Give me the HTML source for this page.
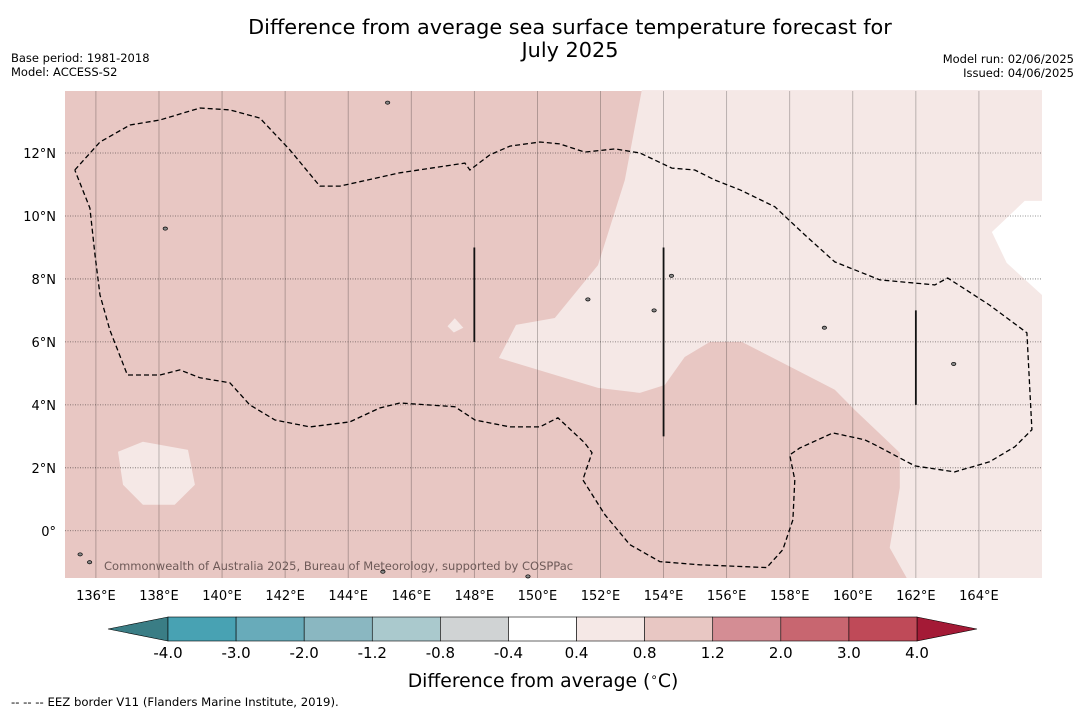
<!DOCTYPE html>
<html><head><meta charset="utf-8">
<style>
body{margin:0;background:#fff;font-family:"DejaVu Sans","Liberation Sans",sans-serif;}
svg{display:block}
</style></head>
<body>
<svg id="chart" width="1085" height="713" viewBox="0 0 1085 713">
<text x="570" y="34" font-size="20.8" text-anchor="middle" fill="#000">Difference from average sea surface temperature forecast for</text>
<text x="570" y="57" font-size="20.8" text-anchor="middle" fill="#000">July 2025</text>
<text x="11" y="62" font-size="11.5">Base period: 1981-2018</text>
<text x="11" y="76" font-size="11.5">Model: ACCESS-S2</text>
<text x="1074" y="63" font-size="11.5" text-anchor="end">Model run: 02/06/2025</text>
<text x="1074" y="77" font-size="11.5" text-anchor="end">Issued: 04/06/2025</text>
<g id="map"></g>
<g id="cbar"></g>
<text x="543" y="687" font-size="18.8" text-anchor="middle">Difference from average (<tspan font-size="12" dy="-6">∘</tspan><tspan dy="6">C)</tspan></text>
<text x="11" y="706" font-size="11.7">--  --  -- EEZ border V11 (Flanders Marine Institute, 2019).</text>
</svg>
<script>
const lonTicks=[136,138,140,142,144,146,148,150,152,154,156,158,160,162,164];
const latTicks=[0,2,4,6,8,10,12];
const lightRegion=[[153.31,14],[152.77,11.14],[151.92,8.44],[150.55,6.76],[149.32,6.54],[148.78,5.49],[151.92,4.54],[153.25,4.38],[154.04,4.63],[154.67,5.52],[155.47,6.0],[156.48,6.0],[159.43,4.48],[160.06,3.84],[161.49,2.48],[161.49,1.37],[161.17,-0.54],[161.71,-1.5],[166,-1.5],[166,14]];
const whiteRegion=[[166,10.48],[165.45,10.48],[164.41,9.49],[164.88,8.51],[166,7.49]];
const lightIsland=[[136.7,2.51],[137.49,2.83],[138.92,2.57],[139.14,1.46],[138.5,0.83],[137.49,0.83],[136.86,1.46]];
const lightSmall=[[147.38,6.75],[147.65,6.45],[147.35,6.3],[147.15,6.5]];
const eezLine=[[135.33,11.46],[136.13,12.35],[137.08,12.89],[138.03,13.05],[139.3,13.43],[140.25,13.37],[141.2,13.11],[142.15,12.1],[143.1,10.95],[143.74,10.95],[145.64,11.37],[147.7,11.68],[147.86,11.46],[148.49,11.94],[149.13,12.22],[150.08,12.35],[150.71,12.29],[151.5,12.03],[152.46,12.13],[153.25,12.0],[154.26,11.52],[154.99,11.46],[155.63,11.14],[156.42,10.83],[157.53,10.29],[158.48,9.4],[159.43,8.54],[160.86,7.97],[162.6,7.81],[163.01,8.03],[164.34,7.17],[165.52,6.29],[165.68,3.21],[165.14,2.67],[164.34,2.19],[163.23,1.87],[161.97,2.06],[160.7,2.73],[160.38,2.89],[159.37,3.11],[158.32,2.63],[158.0,2.41],[158.16,1.62],[158.1,0.35],[157.78,-0.6],[157.27,-1.17],[155.15,-1.08],[153.88,-0.98],[152.93,-0.44],[152.14,0.51],[151.44,1.62],[151.73,2.48],[151.5,2.79],[150.65,3.59],[150.08,3.3],[149.13,3.3],[148.02,3.52],[147.38,3.94],[145.64,4.06],[145.0,3.9],[144.05,3.46],[142.79,3.3],[141.68,3.52],[140.88,4.0],[140.25,4.7],[139.3,4.86],[138.66,5.11],[138.03,4.95],[137.0,4.95],[136.44,6.38],[136.13,7.49],[135.97,8.76],[135.81,10.25],[135.33,11.46]];
const boundaryLons=[148,154,162];
const boundaryLatStart=[6,3,4];
const boundaryLatEnd=[9,9,7];
const islands=[[145.25,13.6],[138.2,9.6],[154.25,8.1],[153.7,7.0],[159.1,6.45],[163.2,5.3],[151.6,7.35],[135.5,-0.75],[135.8,-1.0],[145.1,-1.3],[149.7,-1.45]];
const cbarLabels=["-4.0","-3.0","-2.0","-1.2","-0.8","-0.4","0.4","0.8","1.2","2.0","3.0","4.0"];
const cbarColors=["#48a2b3","#68abba","#8ab7c1","#aac9cd","#d0d3d4","#ffffff","#f5e8e6","#e8c7c3","#d48d94","#c86670","#bf4a58"];
const lowColor="#3a7d85", highColor="#a41a36";

const NS="http://www.w3.org/2000/svg";
const L=65,R=1042,T=91,B=578;
const LON0=135.02,LON1=166,LAT0=-1.5,LAT1=13.97;
const xs=lon=>L+(lon-LON0)/(LON1-LON0)*(R-L);
const ys=lat=>B-(lat-LAT0)/(LAT1-LAT0)*(B-T);
function mk(tag,attrs,parent){const e=document.createElementNS(NS,tag);for(const k in attrs)e.setAttribute(k,attrs[k]);parent.appendChild(e);return e;}
const map=document.getElementById('map');
const pts=a=>a.map(p=>xs(p[0]).toFixed(1)+','+ys(p[1]).toFixed(1)).join(' ');
let e=mk('rect',{x:L,y:T,width:R-L,height:B-T,fill:"#e8c7c3"},map);


e=mk('polygon',{points:pts(lightRegion),fill:"#f5e8e6"},map);


e=mk('polygon',{points:pts(whiteRegion),fill:"#ffffff"},map);


e=mk('polygon',{points:pts(lightIsland),fill:"#f5e8e6"},map);


e=mk('polygon',{points:pts(lightSmall),fill:"#f5e8e6"},map);


lonTicks.forEach(v=>{
  const g=mk('line',{x1:xs(v),x2:xs(v),y1:T,y2:B,stroke:"#000","stroke-opacity":0.3,"stroke-width":0.8},map);
  
  
  const t=mk('text',{x:xs(v),y:B+22,"font-size":13,"text-anchor":"middle"},map);t.textContent=v+"°E";
  
  
});
latTicks.forEach(v=>{
  const g=mk('line',{x1:L,x2:R,y1:ys(v),y2:ys(v),stroke:"#000","stroke-opacity":0.55,"stroke-width":0.8,"stroke-dasharray":"1,1.5"},map);
  
  
  const t=mk('text',{x:L-9,y:ys(v)+5,"font-size":13,"text-anchor":"end"},map);t.textContent=v===0?"0°":v+"°N";
  
  
});
boundaryLons.forEach((v,i)=>{
  const l=mk('line',{x1:xs(v),x2:xs(v),y1:ys(boundaryLatStart[i]),y2:ys(boundaryLatEnd[i]),stroke:"#111","stroke-width":1.8},map);
  
  
});
e=mk('polyline',{points:pts(eezLine),fill:"none",stroke:"#000","stroke-width":1.3,"stroke-dasharray":"5,3"},map);


islands.forEach(p=>{
  const c=mk('ellipse',{cx:xs(p[0]),cy:ys(p[1]),rx:2.2,ry:1.6,fill:"#888",stroke:"#000","stroke-width":0.7},map);
  
  
});
e=mk('text',{x:104,y:570,"font-size":11.5,fill:"#6e5a58"},map);e.textContent="Commonwealth of Australia 2025, Bureau of Meteorology, supported by COSPPac";



const cb=document.getElementById('cbar');
const CX0=168,CX1=917,CY=617,CH=24;
const seg=(CX1-CX0)/cbarColors.length;
e=mk('polygon',{points:`${CX0},${CY} 108,${CY+CH/2} ${CX0},${CY+CH}`,fill:lowColor,stroke:"#000","stroke-width":0.6},cb);


e=mk('polygon',{points:`${CX1},${CY} 977,${CY+CH/2} ${CX1},${CY+CH}`,fill:highColor,stroke:"#000","stroke-width":0.6},cb);


cbarColors.forEach((c,i)=>{
  const r=mk('rect',{x:CX0+i*seg,y:CY,width:seg,height:CH,fill:c,stroke:"#000","stroke-width":0.6},cb);
  
  
});
cbarLabels.forEach((s,i)=>{
  const t=mk('text',{x:CX0+i*seg,y:CY+CH+17,"font-size":15,"text-anchor":"middle"},cb);t.textContent=s;
  
  
});
</script>
</body></html>
